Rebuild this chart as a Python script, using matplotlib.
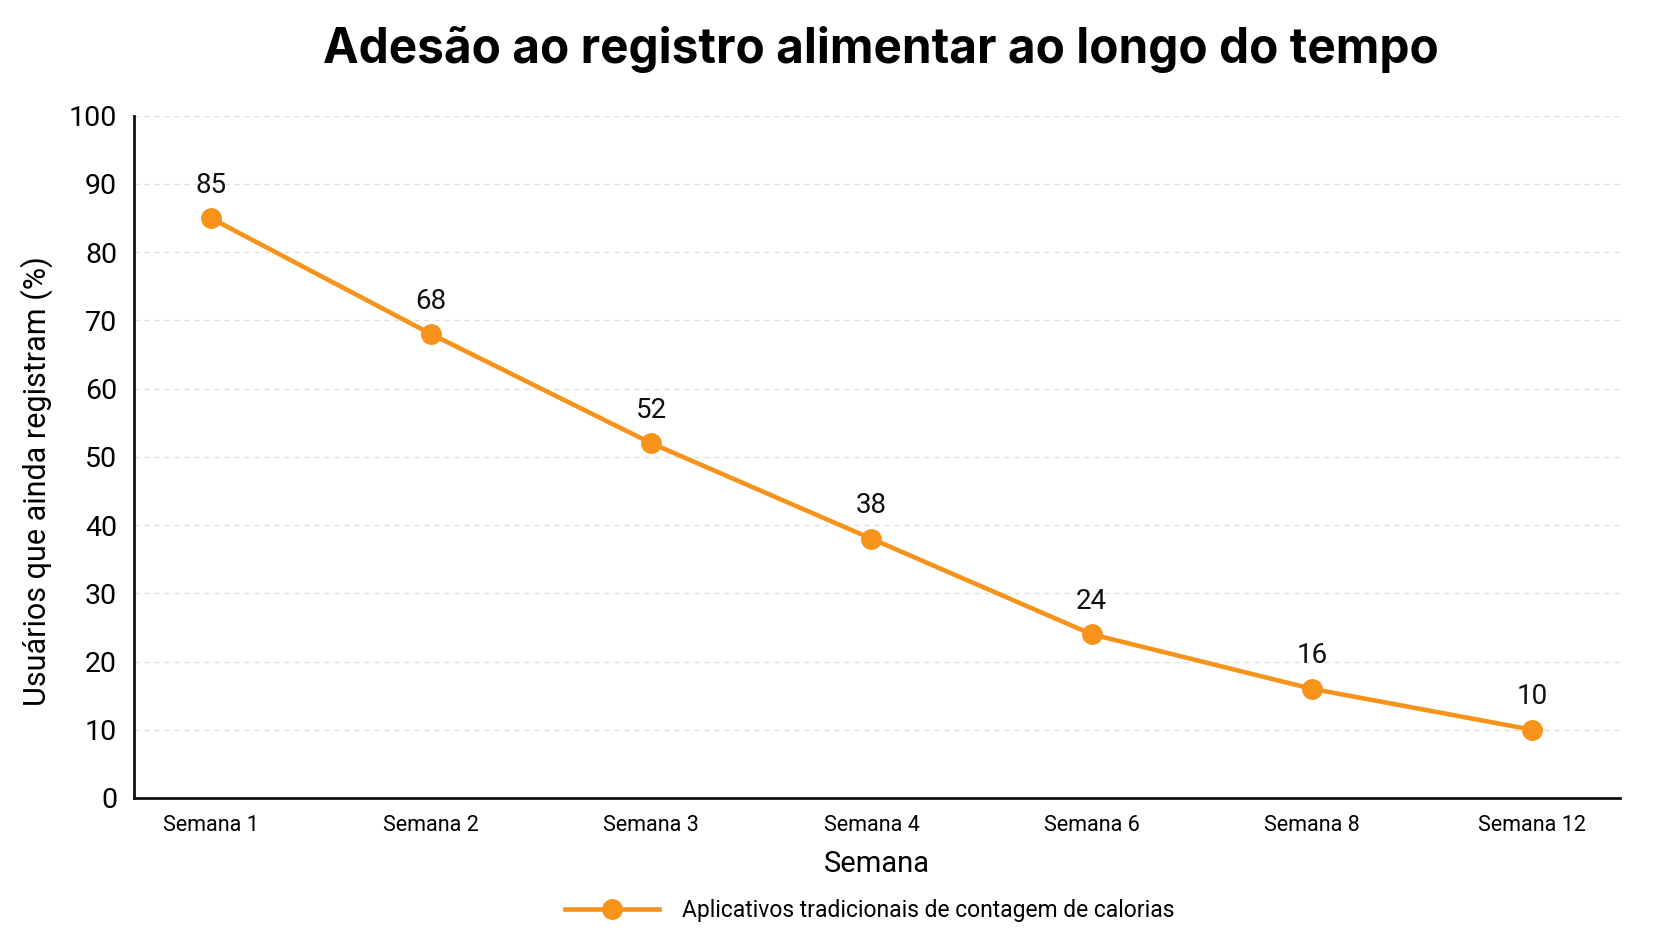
import matplotlib
matplotlib.use("Agg")
import matplotlib.pyplot as plt

semanas = ["Semana 1", "Semana 2", "Semana 3", "Semana 4", "Semana 6", "Semana 8", "Semana 12"]
valores = [85, 68, 52, 38, 24, 16, 10]
serie_nome = "Aplicativos tradicionais de contagem de calorias"
yticks = [0, 10, 20, 30, 40, 50, 60, 70, 80, 90, 100]

cor = "#F7931A"
fonte = ["Roboto", "DejaVu Sans"]

fig = plt.figure(figsize=(16.72, 9.41), dpi=100)
ax = fig.add_axes([0.080, 0.152, 0.889, 0.725])

x = list(range(len(semanas)))
ax.plot(x, valores, color=cor, linewidth=3.3, marker="o", markersize=14,
        label=serie_nome, zorder=3)
for xi, v in zip(x, valores):
    ax.annotate(f"{v}", (xi, v), xytext=(0, 14), textcoords="offset points",
                ha="center", va="bottom", fontsize=20, family=fonte, color="#111111")

ax.set_xlim(-0.35, 6.4)
ax.set_ylim(0, 100)
ax.set_yticks(yticks)
ax.set_xticks(x)
ax.set_xticklabels(semanas, fontsize=15.5, family=fonte)
for lbl in ax.get_yticklabels():
    lbl.set_fontsize(20.5)
    lbl.set_family(fonte)
ax.tick_params(axis="both", length=0)
ax.tick_params(axis="y", pad=12)
ax.tick_params(axis="x", pad=12)

ax.grid(axis="y", color="#dddddd", linestyle=(0, (4, 4)), linewidth=0.9)
ax.set_axisbelow(True)
for s in ["top", "right"]:
    ax.spines[s].set_visible(False)
for s in ["left", "bottom"]:
    ax.spines[s].set_linewidth(2)
    ax.spines[s].set_color("#111111")

ax.set_xlabel("Semana", fontsize=21, family=fonte, labelpad=10)
ax.set_ylabel("Usuários que ainda registram (%)", fontsize=22, family=fonte)
ax.yaxis.set_label_coords(-0.054, 0.465)

fig.text(0.527, 0.947, "Adesão ao registro alimentar ao longo do tempo",
         ha="center", va="center", fontsize=34.4, fontweight="bold",
         family=["Inter", "DejaVu Sans"])

leg = ax.legend(loc="upper center", bbox_to_anchor=(0.495, -0.118), frameon=False,
                prop={"family": "Roboto", "size": 16.5}, handlelength=4.1,
                handletextpad=1.0)

fig.savefig("out.png", dpi=100, facecolor="white")
